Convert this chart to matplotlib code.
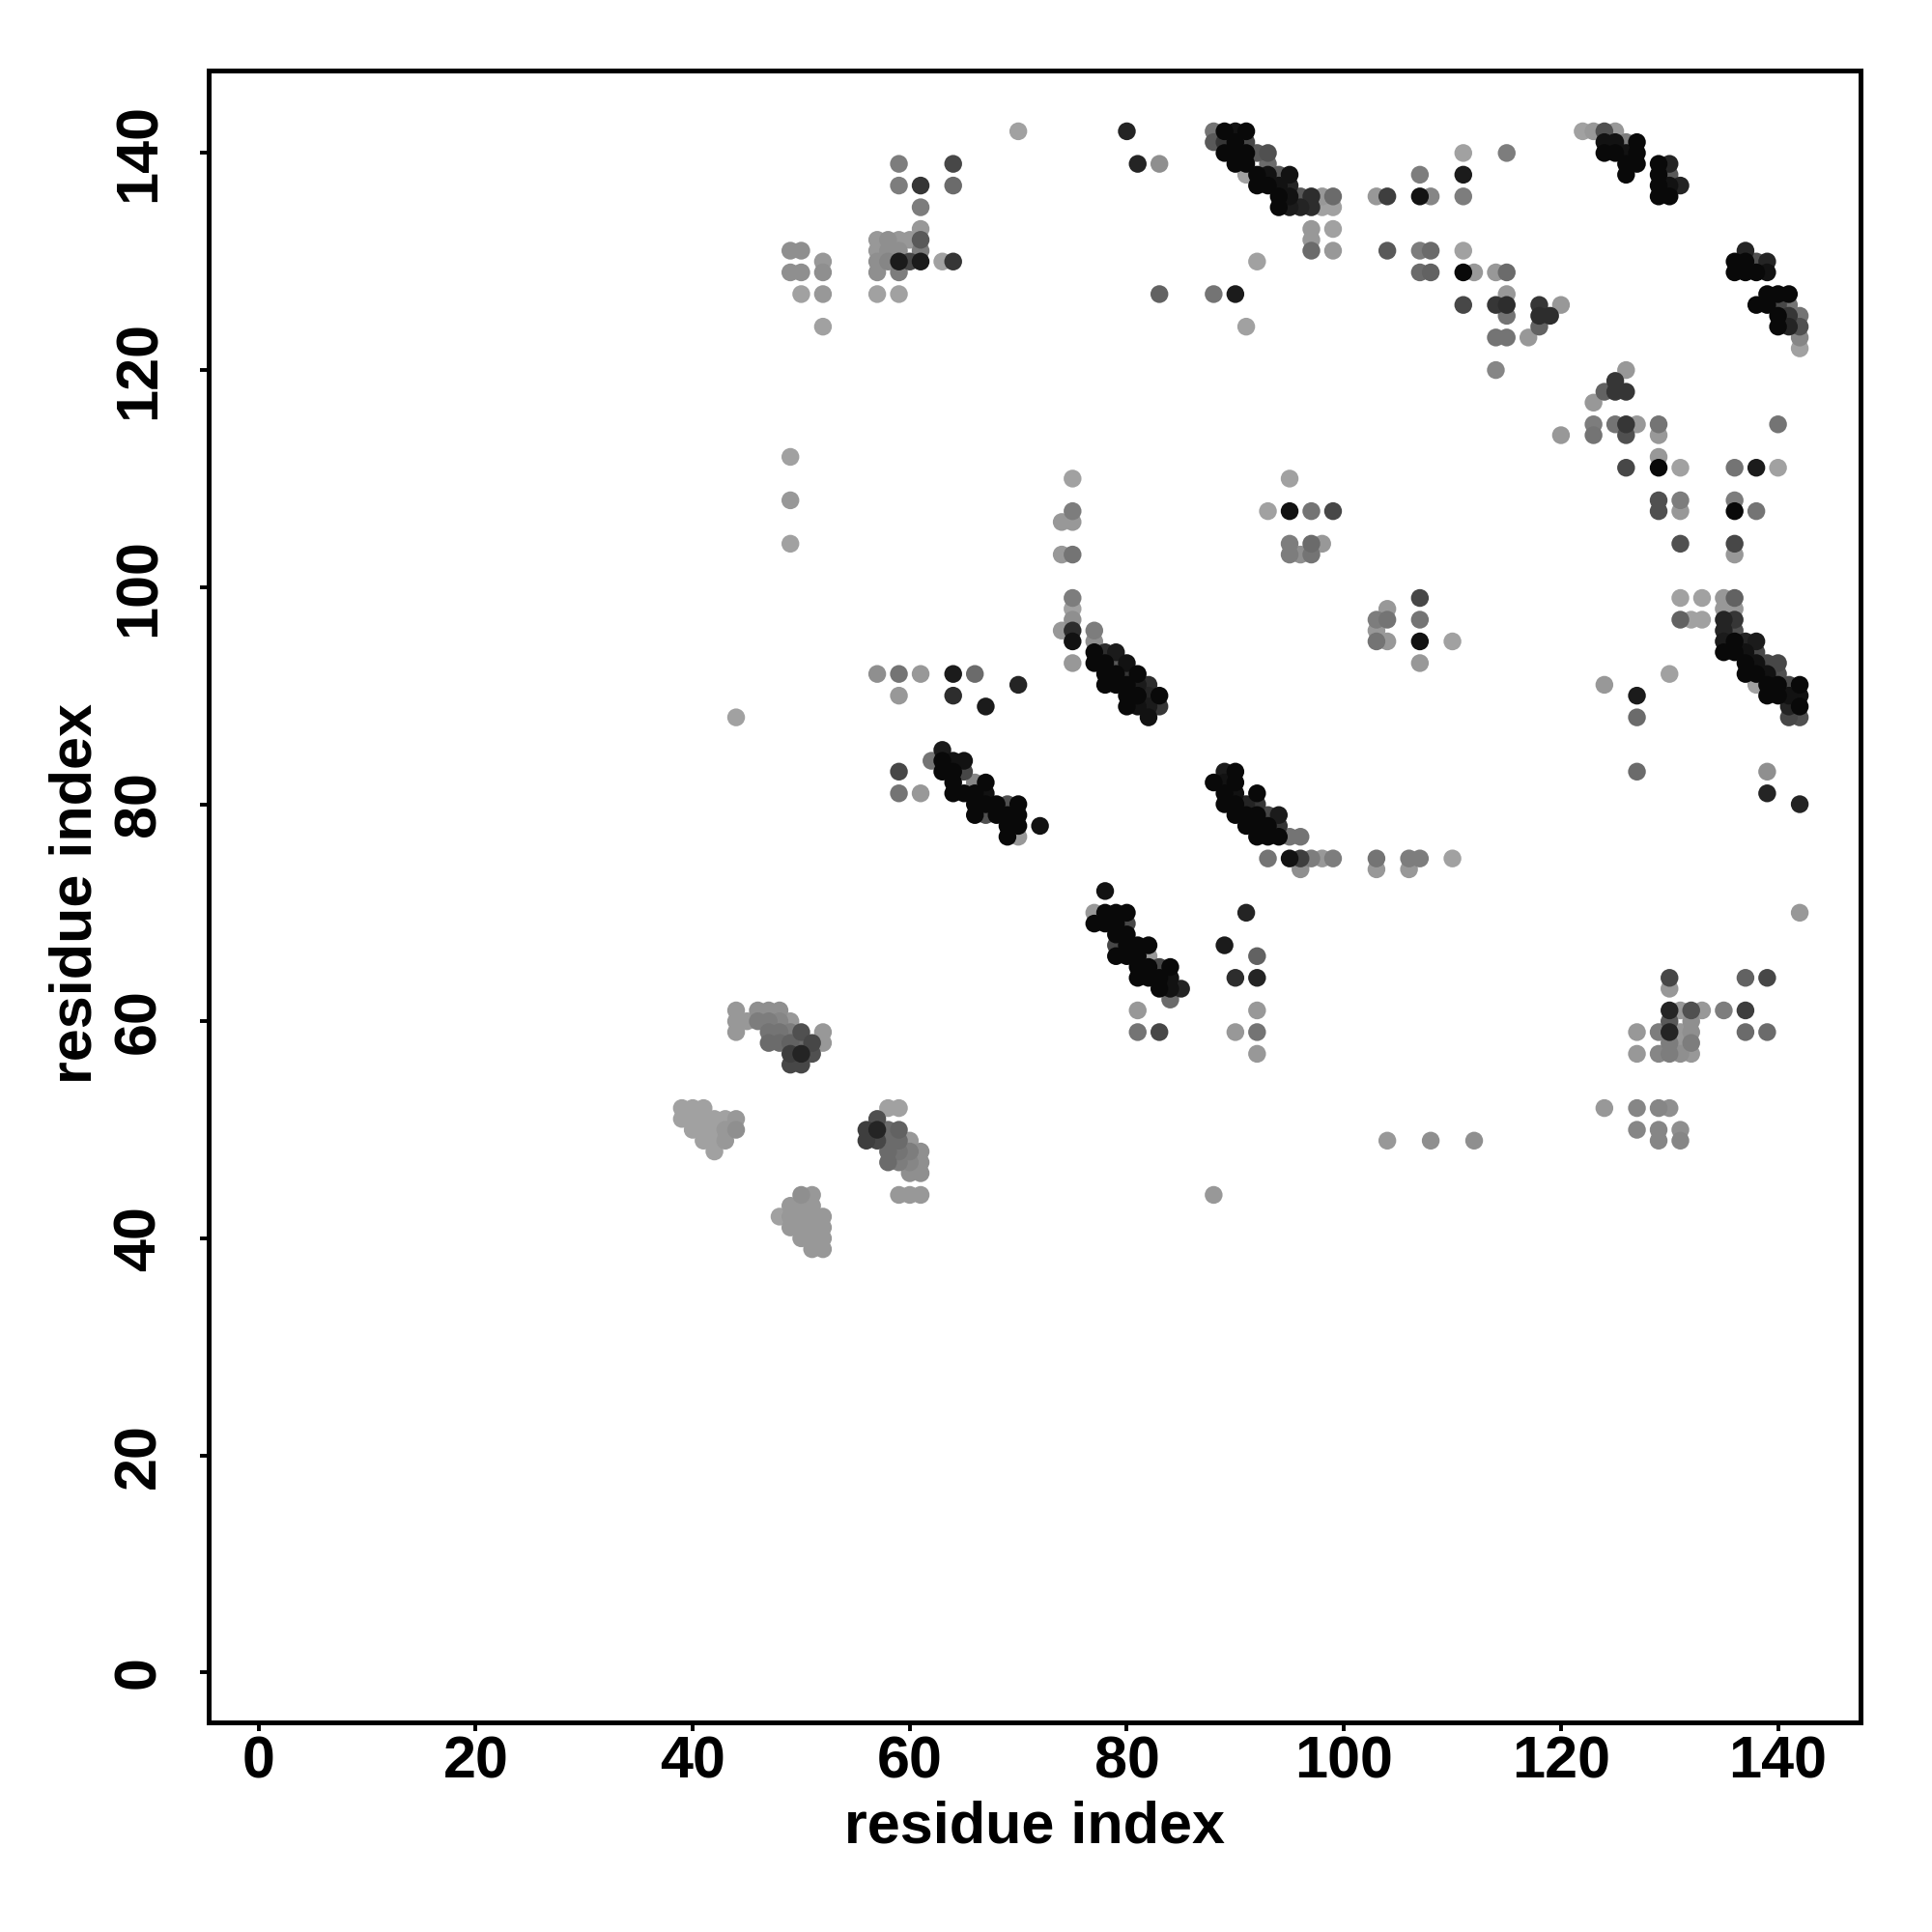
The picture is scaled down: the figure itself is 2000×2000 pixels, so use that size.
import numpy as np
import matplotlib
matplotlib.use('Agg')
import matplotlib.pyplot as plt

# predicted contacts: (residue i, residue j, probability)
upper_left = [
    (70, 142, .1), (59, 139, .3), (64, 139, .6), (59, 137, .3), (61, 137, .7), (64, 137, .4),
    (61, 135, .3), (61, 133, .15),
    (57, 132, .15), (58, 132, .2), (59, 132, .15), (60, 132, .15), (61, 132, .5),
    (57, 131, .15), (58, 131, .2), (59, 131, .2), (61, 131, .3),
    (57, 130, .2), (58, 130, .25), (59, 130, .85), (60, 130, .6), (61, 130, .85), (63, 130, .1), (64, 130, .7),
    (57, 129, .2), (59, 129, .3), (57, 127, .1), (59, 127, .1),
    (49, 131, .2), (50, 131, .2), (52, 130, .15), (49, 129, .2), (50, 129, .2), (52, 129, .2),
    (50, 127, .1), (52, 127, .15), (52, 124, .1),
    (49, 112, .1), (49, 108, .15), (49, 104, .1),
]

upper_mid = [
    (80, 142, .8), (81, 139, .8), (83, 139, .2),
    (88, 142, .35), (89, 142, .95), (90, 142, .9), (91, 142, .95),
    (88, 141, .5), (89, 141, .7), (90, 141, .95), (91, 141, .6),
    (89, 140, .95), (90, 140, .95), (91, 140, .95), (92, 140, .5), (93, 140, .55),
    (90, 139, .95), (91, 139, .95), (93, 139, .4),
    (91, 138, .1), (92, 138, .95), (93, 138, .9), (94, 138, .5), (95, 138, .9),
    (92, 137, .95), (93, 137, .95), (94, 137, .9), (95, 137, .8),
    (94, 136, .95), (95, 136, .9), (96, 136, .5), (97, 136, .75), (98, 136, .15), (99, 136, .4),
    (94, 135, .95), (95, 135, .85), (96, 135, .8), (97, 135, .75), (98, 135, .1), (99, 135, .1),
    (97, 133, .15), (99, 133, .1), (97, 132, .15), (97, 131, .4), (99, 131, .15),
    (103, 136, .15), (104, 136, .65), (107, 136, .9), (108, 136, .25), (107, 138, .3),
    (104, 131, .5), (107, 131, .3), (108, 131, .4), (107, 129, .4), (108, 129, .45),
    (92, 130, .1), (83, 127, .45), (88, 127, .35), (90, 127, .85), (91, 124, .1),
    (75, 110, .1), (95, 110, .1),
]

upper_right = [
    (111, 140, .1), (115, 140, .3), (111, 138, .85), (111, 136, .3),
    (122, 142, .1), (123, 142, .15), (124, 142, .55), (125, 142, .15),
    (124, 141, .9), (125, 141, .9), (126, 141, .3), (127, 141, .95),
    (124, 140, .95), (125, 140, .95), (126, 140, .9), (127, 140, .95),
    (126, 139, .95), (127, 139, .95), (126, 138, .95),
    (129, 139, .95), (130, 139, .8), (129, 138, .95), (130, 138, .5),
    (129, 137, .95), (130, 137, .9), (131, 137, .8), (129, 136, .95), (130, 136, .95),
    (137, 131, .8), (136, 130, .95), (137, 130, .95), (138, 130, .55), (139, 130, .8),
    (136, 129, .95), (137, 129, .95), (138, 129, .95), (139, 129, .9),
    (139, 127, .95), (140, 127, .95), (141, 127, .95),
    (138, 126, .95), (139, 126, .95), (140, 126, .6), (141, 126, .35),
    (140, 125, .95), (141, 125, .7), (142, 125, .35),
    (140, 124, .95), (141, 124, .8), (142, 124, .55), (142, 123, .25), (142, 122, .1),
    (111, 131, .1), (111, 129, .95), (112, 129, .15), (114, 129, .15), (115, 129, .4),
    (115, 127, .15), (111, 126, .6), (114, 126, .7), (115, 126, .75), (118, 126, .7), (120, 126, .15),
    (115, 125, .35), (118, 125, .75), (119, 125, .75), (118, 124, .45),
    (114, 123, .35), (115, 123, .35), (117, 123, .15), (114, 120, .25),
    (126, 120, .15), (125, 119, .7), (124, 118, .45), (125, 118, .7), (126, 118, .7), (123, 117, .15),
    (123, 115, .3), (125, 115, .35), (126, 115, .7), (127, 115, .15), (129, 115, .35), (140, 115, .35),
    (120, 114, .15), (123, 114, .35), (126, 114, .55), (129, 114, .15), (129, 112, .15),
    (126, 111, .6), (129, 111, .95), (131, 111, .1), (136, 111, .35), (138, 111, .85), (140, 111, .1),
]

mid_right = [
    (129, 108, .55), (131, 108, .3), (136, 108, .3),
    (129, 107, .55), (131, 107, .15), (136, 107, .95), (138, 107, .35),
    (131, 104, .55), (136, 104, .6), (136, 103, .15),
    (131, 99, .1), (133, 99, .1), (135, 99, .15), (136, 99, .45), (135, 98, .15), (136, 98, .15),
    (131, 97, .45), (132, 97, .1), (133, 97, .1), (135, 97, .8), (136, 97, .7),
    (135, 96, .8), (136, 96, .55),
    (135, 95, .85), (136, 95, .95), (137, 95, .8), (138, 95, .85),
    (135, 94, .95), (136, 94, .95), (137, 94, .9), (138, 94, .6),
    (137, 93, .95), (138, 93, .9), (139, 93, .6), (140, 93, .6),
    (137, 92, .95), (138, 92, .95), (139, 92, .9), (140, 92, .55),
    (138, 91, .1), (139, 91, .95), (140, 91, .95), (141, 91, .6), (142, 91, .95),
    (139, 90, .95), (140, 90, .95), (141, 90, .9), (142, 90, .9),
    (141, 89, .8), (142, 89, .95), (141, 88, .6), (142, 88, .55),
    (130, 92, .1), (124, 91, .15), (127, 90, .85), (127, 88, .4), (127, 83, .4),
    (139, 83, .2), (139, 81, .8), (142, 80, .8), (110, 95, .1), (110, 75, .1),
]

mid_center = [
    (74, 106, .15), (74, 103, .15), (74, 96, .15),
    (75, 107, .3), (75, 106, .15), (75, 103, .35), (75, 99, .3), (75, 98, .1), (75, 97, .2),
    (75, 96, .75), (75, 95, .9), (75, 93, .15),
    (77, 96, .3), (77, 95, .2),
    (77, 94, .95), (78, 94, .75), (79, 94, .85),
    (77, 93, .95), (78, 93, .95), (79, 93, .5), (80, 93, .9),
    (78, 92, .95), (79, 92, .95), (80, 92, .7), (81, 92, .95),
    (78, 91, .95), (79, 91, .95), (80, 91, .95), (81, 91, .85), (82, 91, .75),
    (80, 90, .95), (81, 90, .95), (82, 90, .8), (83, 90, .95),
    (80, 89, .95), (81, 89, .9), (82, 89, .85), (83, 89, .7), (82, 88, .9),
    (93, 107, .1), (95, 107, .9), (97, 107, .35), (99, 107, .6),
    (95, 104, .3), (97, 104, .4), (98, 104, .15), (95, 103, .3), (96, 103, .2), (97, 103, .35),
    (107, 99, .6), (104, 98, .15), (103, 97, .3), (104, 97, .35), (107, 97, .35),
    (103, 96, .15), (103, 95, .35), (104, 95, .15), (107, 95, .9), (107, 93, .15),
    (89, 83, .85), (90, 83, .95), (88, 82, .95), (89, 82, .9), (90, 82, .95),
    (89, 81, .95), (90, 81, .9), (92, 81, .95),
    (89, 80, .95), (90, 80, .95), (91, 80, .8), (92, 80, .7),
    (90, 79, .95), (91, 79, .95), (92, 79, .95), (93, 79, .6), (94, 79, .85),
    (91, 78, .95), (92, 78, .95), (93, 78, .95), (94, 78, .7),
    (92, 77, .95), (93, 77, .95), (94, 77, .95), (95, 77, .35), (96, 77, .35),
    (93, 75, .35), (95, 75, .9), (96, 75, .65), (97, 75, .3), (98, 75, .15), (99, 75, .3),
    (103, 75, .35), (106, 75, .3), (107, 75, .3),
    (96, 74, .2), (103, 74, .15), (106, 74, .15),
]

mid_left = [
    (63, 85, .85), (62, 84, .35), (63, 84, .95), (64, 84, .9), (65, 84, .9),
    (63, 83, .95), (64, 83, .95), (65, 83, .6),
    (64, 82, .95), (66, 82, .25), (67, 82, .95),
    (64, 81, .95), (65, 81, .95), (66, 81, .95), (67, 81, .9),
    (66, 80, .95), (67, 80, .95), (68, 80, .95), (69, 80, .55), (70, 80, .95),
    (66, 79, .95), (67, 79, .55), (68, 79, .95), (69, 79, .95), (70, 79, .95),
    (69, 78, .95), (70, 78, .95), (72, 78, .9), (69, 77, .95), (70, 77, .15),
    (44, 88, .1),
    (57, 92, .2), (59, 92, .35), (61, 92, .15), (64, 92, .85), (66, 92, .4),
    (70, 91, .8), (59, 90, .15), (64, 90, .75), (67, 89, .85),
    (59, 83, .6), (59, 81, .35), (61, 81, .15),
]

lower_center = [
    (78, 72, .9), (77, 70, .15), (78, 70, .95), (79, 70, .95), (80, 70, .95),
    (77, 69, .95), (78, 69, .95), (79, 69, .95), (80, 69, .6),
    (79, 68, .95), (80, 68, .95),
    (79, 67, .6), (80, 67, .95), (81, 67, .95), (82, 67, .95),
    (79, 66, .95), (80, 66, .95), (81, 66, .95), (82, 66, .15),
    (81, 65, .95), (82, 65, .95), (83, 65, .6), (84, 65, .95),
    (81, 64, .95), (82, 64, .95), (83, 64, .95), (84, 64, .9),
    (83, 63, .95), (84, 63, .9), (85, 63, .8), (84, 62, .4),
    (91, 70, .8), (89, 67, .85), (92, 66, .45), (90, 64, .75), (92, 64, .8),
    (81, 61, .15), (92, 61, .15), (81, 59, .35), (83, 59, .6), (90, 59, .15), (92, 59, .35), (92, 57, .15),
    (104, 49, .15), (108, 49, .2), (112, 49, .2), (88, 44, .15),
]

lower_right = [
    (142, 70, .15), (130, 64, .6), (130, 63, .15), (137, 64, .45), (139, 64, .6),
    (130, 61, .8), (131, 61, .15), (132, 61, .55), (133, 61, .15), (135, 61, .3), (137, 61, .65),
    (130, 60, .5), (132, 60, .2),
    (127, 59, .15), (129, 59, .3), (130, 59, .8), (131, 59, .15), (132, 59, .2), (137, 59, .4), (139, 59, .4),
    (130, 58, .3), (131, 58, .15), (132, 58, .3),
    (127, 57, .15), (129, 57, .25), (130, 57, .3), (131, 57, .2), (132, 57, .15),
    (124, 52, .15), (127, 52, .25), (129, 52, .25), (130, 52, .2),
    (127, 50, .25), (129, 50, .25), (131, 50, .2), (129, 49, .25), (131, 49, .25),
]

lower_left = [
    (44, 61, .15), (46, 61, .2), (47, 61, .2), (48, 61, .2),
    (44, 60, .15), (45, 60, .15), (46, 60, .3), (47, 60, .3), (48, 60, .25), (49, 60, .15),
    (44, 59, .15), (47, 59, .35), (48, 59, .35), (49, 59, .3), (50, 59, .55), (52, 59, .15),
    (47, 58, .4), (48, 58, .4), (49, 58, .45), (50, 58, .4), (51, 58, .6), (52, 58, .15),
    (49, 57, .65), (50, 57, .8), (51, 57, .55), (49, 56, .6), (50, 56, .6),
    (39, 52, .1), (40, 52, .1), (41, 52, .1),
    (39, 51, .1), (40, 51, .1), (41, 51, .1), (42, 51, .1), (43, 51, .1), (44, 51, .15),
    (40, 50, .1), (41, 50, .1), (42, 50, .1), (43, 50, .15), (44, 50, .2),
    (41, 49, .1), (42, 49, .1), (43, 49, .15), (42, 48, .1),
    (58, 52, .1), (59, 52, .1), (57, 51, .55),
    (56, 50, .65), (57, 50, .8), (58, 50, .4), (59, 50, .45),
    (56, 49, .65), (57, 49, .6), (58, 49, .4), (59, 49, .4), (60, 49, .15),
    (58, 48, .4), (59, 48, .35), (60, 48, .3), (61, 48, .2),
    (58, 47, .4), (59, 47, .3), (60, 47, .25), (61, 47, .2),
    (60, 46, .2), (61, 46, .2), (59, 44, .15), (60, 44, .15), (61, 44, .15),
    (50, 44, .2), (51, 44, .15), (49, 43, .15), (50, 43, .15), (51, 43, .15),
    (48, 42, .1), (49, 42, .15), (50, 42, .15), (51, 42, .15), (52, 42, .15),
    (49, 41, .15), (50, 41, .15), (51, 41, .15), (52, 41, .15),
    (50, 40, .15), (51, 40, .15), (52, 40, .15), (51, 39, .15), (52, 39, .15),
]

contacts = np.array(upper_left + upper_mid + upper_right + mid_right + mid_center
                    + mid_left + lower_center + lower_right + lower_left)
contacts = contacts[np.argsort(contacts[:, 2], kind='stable')]
res_i, res_j, prob = contacts[:, 0], contacts[:, 1], contacts[:, 2]
shade = 0.70 * (1 - prob)
colors = [(g, g, g) for g in shade]

plt.rcParams['font.family'] = ['Liberation Sans', 'DejaVu Sans']
plt.rcParams['font.weight'] = 'bold'

fig = plt.figure(figsize=(10, 10), dpi=200)
ax = fig.add_axes([0.108, 0.1085, 0.855, 0.855])
ax.scatter(res_i, res_j, s=44, c=colors, linewidths=0)

ax.set_xlim(-4.6, 147.6)
ax.set_ylim(-4.6, 147.6)
ax.set_xticks(range(0, 141, 20))
ax.set_yticks(range(0, 141, 20))
for sp in ax.spines.values():
    sp.set_linewidth(1.8)
ax.tick_params(direction='out', length=3.3, width=1.4, labelsize=22)
ax.tick_params(axis='x', pad=1.5)
ax.tick_params(axis='y', pad=12)
for lab in ax.get_yticklabels():
    lab.set_rotation(90)
    lab.set_va('center')
    lab.set_fontweight('bold')
for lab in ax.get_xticklabels():
    lab.set_fontweight('bold')

ax.set_xlabel('residue index', fontsize=22, fontweight='bold', va='center')
ax.xaxis.set_label_coords(0.5, -0.064)
ax.set_ylabel('residue index', fontsize=22, fontweight='bold', va='center')
ax.yaxis.set_label_coords(-0.080, 0.502)

plt.savefig('out.png', dpi=200)
